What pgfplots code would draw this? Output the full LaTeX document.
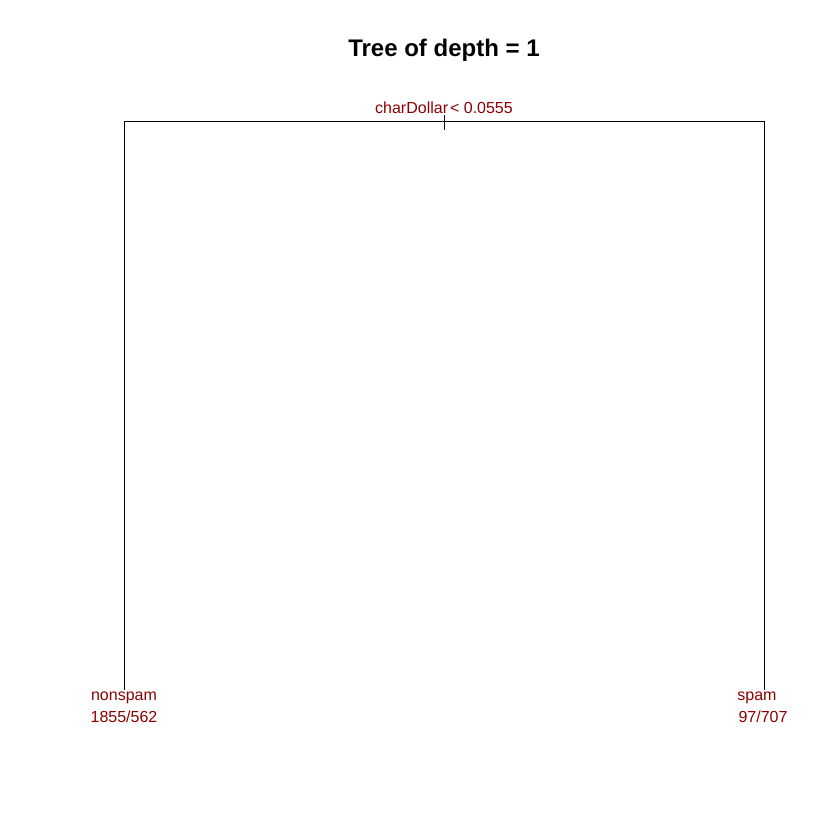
\documentclass[border=0pt]{standalone}
\usepackage{pgfplots}
\pgfplotsset{compat=1.18}
\usepackage{fontspec}
\setmainfont{Liberation Sans}
\definecolor{dred}{HTML}{8B0000}
\begin{document}
\begin{tikzpicture}
\begin{axis}[width=840pt,height=840pt,scale only axis,hide axis,
  xmin=0,xmax=840,ymin=0,ymax=840,y dir=reverse,clip=false]
\addplot[draw=none] coordinates {(0,0)(840,840)};
\addplot[black,line width=0.9pt] coordinates {(124,690)(124,121)(764,121)(764,690)};
\addplot[black,line width=0.9pt] coordinates {(444,112)(444,130)};
\node[font=\fontsize{24}{24}\selectfont\bfseries] at (axis cs:444,50) {Tree of depth = 1};
\node[text=dred,font=\fontsize{16}{16}\selectfont,fill=white,inner sep=1pt] at (axis cs:444,108) {charDollar\kern2pt< 0.0555};
\node[text=dred,font=\fontsize{16}{16}\selectfont] at (axis cs:124,698) {nonspam};
\node[text=dred,font=\fontsize{16}{16}\selectfont] at (axis cs:124,717) {1855/562};
\node[text=dred,font=\fontsize{16}{16}\selectfont] at (axis cs:757,698) {spam};
\node[text=dred,font=\fontsize{16}{16}\selectfont] at (axis cs:763,717) {97/707};
\end{axis}
\end{tikzpicture}
\end{document}
